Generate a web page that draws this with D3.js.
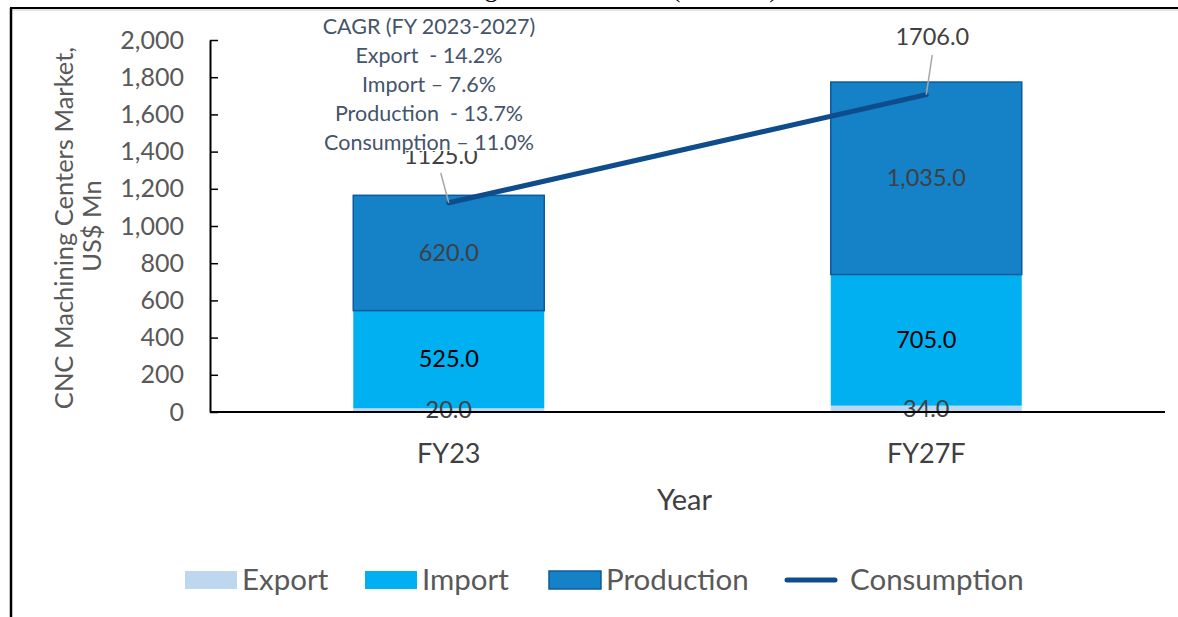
<!DOCTYPE html>
<html><head><meta charset="utf-8">
<script src="https://cdn.jsdelivr.net/npm/d3@7"></script>
<style>body{margin:0;background:#fff}svg{display:block}text{font-family:Lato,"Open Sans",sans-serif}</style>
</head><body><svg id="c" width="1178" height="617"></svg>
<script>
const categories = ["FY23", "FY27F"];
const exportVals = [20, 34];
const importVals = [525, 705];
const productionVals = [620, 1035];
const consumptionVals = [1125, 1706];
const yTicks = [0, 200, 400, 600, 800, 1000, 1200, 1400, 1600, 1800, 2000];
const seriesNames = ["Export", "Import", "Production", "Consumption"];
const cagrLines = ["CAGR (FY 2023-2027)", "Export  - 14.2%", "Import \u2013 7.6%", "Production  - 13.7%", "Consumption \u2013 11.0%"];
const chartTitle = "CNC Machining Centers Market (US$ Mn)";

const svg = d3.select("#c");
const W = 1178, H = 617;
const m = {left: 210, right: 1165, top: 40, bottom: 412};
const colors = {Export: "#bdd7ee", Import: "#00b0f0", Production: "#1581c6", Consumption: "#0f4c8c"};

svg.append("rect").attr("width", W).attr("height", H).attr("fill", "#fff");

// cut-off title (only descenders visible, as in the reference)
svg.append("text").attr("x", 778).attr("y", -3).attr("text-anchor", "end")
  .style("font-family", "'Liberation Serif',serif").style("font-size", "26px").attr("fill", "#000").text(chartTitle);

// frame
svg.append("line").attr("x1", 10).attr("x2", W).attr("y1", 8).attr("y2", 8).attr("stroke", "#000").attr("stroke-width", 2);
svg.append("line").attr("x1", 10).attr("x2", W).attr("y1", 10).attr("y2", 10).attr("stroke", "#ccc").attr("stroke-width", 1);
svg.append("line").attr("x1", 11).attr("x2", 11).attr("y1", 8).attr("y2", H).attr("stroke", "#000").attr("stroke-width", 2.5);

const x = d3.scaleBand().domain(categories).range([m.left, m.right]).paddingInner(0.6).paddingOuter(0.3);
const y = d3.scaleLinear().domain([0, 2000]).range([m.bottom, m.top]);

const rows = categories.map((c, i) => ({cat: c, Export: exportVals[i], Import: importVals[i], Production: productionVals[i]}));
const stack = d3.stack().keys(["Export", "Import", "Production"])(rows);

const g = svg.append("g");
stack.forEach(layer => {
  g.selectAll(null).data(layer).join("rect")
    .attr("x", d => x(d.data.cat))
    .attr("width", x.bandwidth())
    .attr("y", d => y(d[1]))
    .attr("height", d => y(d[0]) - y(d[1]))
    .attr("fill", colors[layer.key])
    .attr("stroke", layer.key === "Production" ? "#0e5a9c" : "none")
    .attr("stroke-width", 1.5);
});

// y axis
const yAxis = d3.axisLeft(y).tickValues(yTicks).tickFormat(d3.format(",")).tickSizeInner(-8).tickSizeOuter(0).tickPadding(26);
const ya = svg.append("g").attr("transform", `translate(${m.left},0)`).call(yAxis);
ya.select(".domain").attr("stroke", "#000").attr("stroke-width", 2);
ya.selectAll(".tick line").attr("stroke", "#000").attr("stroke-width", 1.5);
ya.selectAll(".tick text").attr("fill", "#595959").style("font-size", "25px").style("font-family", "Lato,sans-serif");

// x axis
const xAxis = d3.axisBottom(x).tickSize(0).tickPadding(32);
const xa = svg.append("g").attr("transform", `translate(0,${m.bottom})`).call(xAxis);
xa.select(".domain").attr("stroke", "#000").attr("stroke-width", 2).attr("d", `M${m.left},0H${m.right}`);
xa.selectAll(".tick text").attr("fill", "#404040").style("font-size", "27px").style("font-family", "Lato,sans-serif");

// axis titles
svg.append("text").attr("transform", "translate(73,228) rotate(-90)").attr("text-anchor", "middle")
  .attr("fill", "#595959").style("font-size", "25.5px").text("CNC Machining Centers Market,");
svg.append("text").attr("transform", "translate(101,226) rotate(-90)").attr("text-anchor", "middle")
  .attr("fill", "#595959").style("font-size", "25.5px").text("US$ Mn");
svg.append("text").attr("x", (m.left + m.right) / 2 - 3).attr("y", 510).attr("text-anchor", "middle")
  .attr("fill", "#404040").style("font-size", "29px").text("Year");

// bar labels
const labelColor = {Export: "#404040", Import: "#000", Production: "#404040"};
const fmt = d3.format(",.1f");
stack.forEach(layer => {
  g.selectAll(null).data(layer).join("text")
    .attr("x", d => x(d.data.cat) + x.bandwidth() / 2)
    .attr("y", d => (y(d[0]) + y(d[1])) / 2 + 8)
    .attr("text-anchor", "middle")
    .attr("fill", labelColor[layer.key])
    .style("font-size", "23.5px")
    .text(d => fmt(d[1] - d[0]));
});

// consumption line
const cx = c => x(c) + x.bandwidth() / 2;
svg.append("path").datum(categories.map((c, i) => [cx(c), y(consumptionVals[i])]))
  .attr("d", d3.line()).attr("fill", "none").attr("stroke", colors.Consumption).attr("stroke-width", 5).attr("stroke-linecap", "round");

// consumption labels with leader lines
const labelPos = [{dx: -8, ty: 164, ly: 173}, {dx: 6, ty: 45, ly: 55}];
categories.forEach((c, i) => {
  const px = cx(c), py = y(consumptionVals[i]);
  const lp = labelPos[i];
  svg.append("line").attr("x1", px).attr("y1", py).attr("x2", px + lp.dx).attr("y2", lp.ly)
    .attr("stroke", "#a6a6a6").attr("stroke-width", 1.5);
  svg.append("text").attr("x", px + lp.dx).attr("y", lp.ty).attr("text-anchor", "middle")
    .attr("fill", "#404040").style("font-size", "23.5px").text(consumptionVals[i].toFixed(1));
});

// CAGR text box
svg.append("rect").attr("x", 316).attr("y", 12).attr("width", 228).attr("height", 139).attr("fill", "#fff");
cagrLines.forEach((t, i) => {
  svg.append("text").attr("x", 429).attr("y", 34 + i * 29).attr("text-anchor", "middle")
    .attr("fill", "#44546a").style("font-size", "21.5px").style("white-space", "pre").attr("xml:space", "preserve").text(t);
});

// legend
const legendItems = [
  {name: "Export", x: 185, type: "rect"},
  {name: "Import", x: 365, type: "rect"},
  {name: "Production", x: 549, type: "rect"},
  {name: "Consumption", x: 785, type: "line"}
];
const ly = 580;
legendItems.forEach(it => {
  if (it.type === "rect") {
    svg.append("rect").attr("x", it.x).attr("y", ly - 9).attr("width", 52).attr("height", 18)
      .attr("fill", colors[it.name]).attr("stroke", it.name === "Production" ? "#0e5a9c" : "none").attr("stroke-width", 1.5);
    svg.append("text").attr("x", it.x + 57).attr("y", ly + 10).attr("fill", "#595959").style("font-size", "29.5px").text(it.name);
  } else {
    svg.append("line").attr("x1", it.x + 2).attr("x2", it.x + 50).attr("y1", ly).attr("y2", ly)
      .attr("stroke", colors.Consumption).attr("stroke-width", 5).attr("stroke-linecap", "round");
    svg.append("text").attr("x", it.x + 65).attr("y", ly + 10).attr("fill", "#595959").style("font-size", "29.5px").text(it.name);
  }
});
</script></body></html>
